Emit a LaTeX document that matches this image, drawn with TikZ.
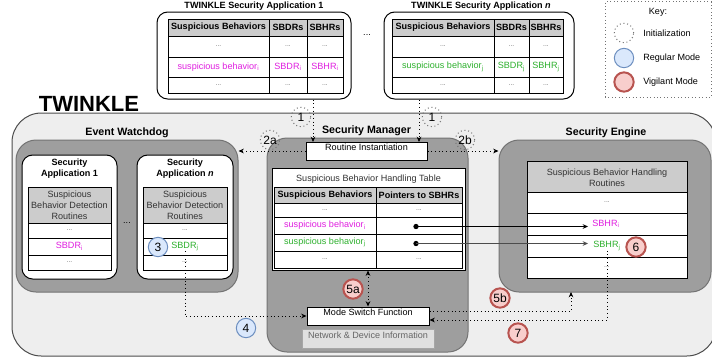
\documentclass[tikz,border=0pt]{standalone}
\usepackage{fontspec}
\setmainfont{Liberation Sans}
\usetikzlibrary{fit,arrows.meta}

\definecolor{twinklefill}{HTML}{EEEEEE}
\definecolor{darkfill}{HTML}{9E9E9E}
\definecolor{headfill}{HTML}{CCCCCC}
\definecolor{sbmag}{HTML}{E01EE0}
\definecolor{sbgreen}{HTML}{2DB02D}
\definecolor{regfill}{HTML}{DAE8FC}
\definecolor{regline}{HTML}{6C8EBF}
\definecolor{vigfill}{HTML}{F8CECC}
\definecolor{vigline}{HTML}{B85450}

\tikzset{
  every node/.style={font=\fontsize{6.8}{8.2}\selectfont, inner sep=0pt},
  outerbox/.style={draw=black!70, line width=0.75pt, fill=twinklefill, rounded corners=22pt, inner sep=0pt},
  darkbox/.style={draw=black!55, line width=0.75pt, fill=darkfill, rounded corners=15pt, inner sep=0pt},
  appbox/.style={draw=black, line width=0.75pt, fill=white, rounded corners=8pt, inner sep=0pt},
  plainbox/.style={draw=black, line width=0.75pt, fill=white, inner sep=0pt},
  netbox/.style={draw=black!35, line width=0.75pt, fill=black!12, text=black!60, inner sep=0pt},
  keybox/.style={draw=black!55, dotted, line width=0.6pt, inner sep=0pt},
  gridline/.style={draw=black, line width=0.75pt},
  bigtitle/.style={font=\fontsize{16.5}{18}\selectfont\bfseries},
  grouptitle/.style={font=\fontsize{8}{9.6}\selectfont\bfseries},
  boldtext/.style={font=\fontsize{6.8}{8.2}\selectfont\bfseries},
  celldots/.style={font=\fontsize{5}{6}\selectfont, text=black!60},
  marker/.style={circle, minimum size=14.5pt, line width=0.75pt, font=\fontsize{9}{10}\selectfont},
  initmark/.style={marker, draw=black!55, dotted},
  regmark/.style={marker, draw=regline, fill=regfill},
  vigmark/.style={marker, draw=vigline, fill=vigfill, line width=1.5pt},
  initarrow/.style={dotted, line width=0.75pt, -{Stealth[length=4pt,width=3.5pt]}},
  modearrow/.style={initarrow},
  ptrarrow/.style={line width=0.75pt, -{Stealth[length=4pt,width=3.5pt]}},
  ptrdot/.style={circle, fill=black, minimum size=4pt},
  magtext/.style={text=sbmag},
  greentext/.style={text=sbgreen},
}

\begin{document}
\begin{tikzpicture}[x=0.75pt,y=-0.75pt]
  \useasboundingbox (0,0) rectangle (712,362);

  % security applications on top
  \node[appbox, fit={(157,12) (351,99)}] (topapp1) {};
  \node[boldtext] (topapp1title) at (254,6) {TWINKLE Security Application 1};
  \fill[headfill] (168,19) rectangle (343,36);
  \draw[gridline] (168,19) rectangle (343,93) (168,36) -- (343,36) (168,57) -- (343,57) (168,77) -- (343,77)
    (269,19) -- (269,93) (307,19) -- (307,93);
  \node[boldtext] (t1h1) at (218.5,27.5) {Suspicious Behaviors};
  \node[boldtext] (t1h2) at (288,27.5) {SBDRs};
  \node[boldtext] (t1h3) at (325,27.5) {SBHRs};
  \node[celldots] (t1a1) at (218.5,46.5) {...};
  \node[celldots] (t1a2) at (288,46.5) {...};
  \node[celldots] (t1a3) at (325,46.5) {...};
  \node[magtext] (t1b1) at (218.5,67) {suspicious behavior\textsubscript{i}};
  \node[magtext] (t1b2) at (288,67) {SBDR\textsubscript{i}};
  \node[magtext] (t1b3) at (325,67) {SBHR\textsubscript{i}};
  \node[celldots] (t1c1) at (218.5,85) {...};
  \node[celldots] (t1c2) at (288,85) {...};
  \node[celldots] (t1c3) at (325,85) {...};

  \node (topdots) at (367,35) {...};

  \node[appbox, fit={(384,12) (574,99)}] (topappn) {};
  \node[boldtext] (topappntitle) at (481,6) {TWINKLE Security Application \textit{n}};
  \fill[headfill] (392,19) rectangle (563,36);
  \draw[gridline] (392,19) rectangle (563,93) (392,36) -- (563,36) (392,57) -- (563,57) (392,77) -- (563,77)
    (494,19) -- (494,93) (529,19) -- (529,93);
  \node[boldtext] (tnh1) at (443,27.5) {Suspicious Behaviors};
  \node[boldtext] (tnh2) at (511.5,27.5) {SBDRs};
  \node[boldtext] (tnh3) at (546,27.5) {SBHRs};
  \node[celldots] (tna1) at (443,46.5) {...};
  \node[celldots] (tna2) at (511.5,46.5) {...};
  \node[celldots] (tna3) at (546,46.5) {...};
  \node[greentext] (tnb1) at (443,67) {suspicious behavior\textsubscript{j}};
  \node[greentext] (tnb2) at (511.5,67) {SBDR\textsubscript{j}};
  \node[greentext] (tnb3) at (546,67) {SBHR\textsubscript{j}};
  \node[celldots] (tnc1) at (443,85) {...};
  \node[celldots] (tnc2) at (511.5,85) {...};
  \node[celldots] (tnc3) at (546,85) {...};

  % key
  \node[keybox, fit={(605,1.5) (711,97)}] (key) {};
  \node (keytitle) at (658,12) {Key:};
  \node[initmark] (keyinit) at (624,33) {};
  \node[anchor=west] (keyinitlabel) at (643,33) {Initialization};
  \node[regmark] (keyreg) at (624,58) {};
  \node[anchor=west] (keyreglabel) at (643,58) {Regular Mode};
  \node[vigmark] (keyvig) at (624,82) {};
  \node[anchor=west] (keyviglabel) at (643,82) {Vigilant Mode};

  % twinkle
  \node[outerbox, fit={(12,113) (716,356)}] (twinkle) {};
  \node[bigtitle] (twinkletitle) at (89,104) {TWINKLE};

  % event watchdog
  \node[grouptitle] (ewtitle) at (127,133) {Event Watchdog};
  \node[darkbox, fit={(16,140) (238,292)}] (watchdog) {};
  \node[appbox, fit={(22,155) (117,279)}] (ewapp1) {};
  \node[boldtext, align=center] (ewapp1title) at (69.5,168.5) {Security\\Application 1};
  \fill[headfill] (28,187) rectangle (111,223);
  \draw[gridline] (28,187) rectangle (111,270) (28,223) -- (111,223) (28,238) -- (111,238) (28,255) -- (111,255);
  \node[align=center, text=black!80] (ew1head) at (69.5,205) {Suspicious\\Behavior Detection\\Routines};
  \node[celldots] (ew1a) at (69.5,230.5) {...};
  \node[magtext] (ew1sbdri) at (69.5,246.5) {SBDR\textsubscript{i}};
  \node[celldots] (ew1c) at (69.5,262.5) {...};

  \node (ewdots) at (127,223) {...};

  \node[appbox, fit={(137,155) (233,279)}] (ewappn) {};
  \node[boldtext, align=center] (ewappntitle) at (185,168.5) {Security\\Application \textit{n}};
  \fill[headfill] (143,187) rectangle (227,223);
  \draw[gridline] (143,187) rectangle (227,270) (143,223) -- (227,223) (143,238) -- (227,238) (143,255) -- (227,255);
  \node[align=center, text=black!80] (ewnhead) at (185,205) {Suspicious\\Behavior Detection\\Routines};
  \node[celldots] (ewna) at (185,230.5) {...};
  \node[greentext] (ewnsbdrj) at (185,246.5) {SBDR\textsubscript{j}};
  \node[celldots] (ewnc) at (185,262.5) {...};

  % security manager
  \node[grouptitle] (smtitle) at (366.5,131) {Security Manager};
  \node[darkbox, fit={(267,138) (468,352)}] (manager) {};
  \node[plainbox, fit={(306,142) (427,160)}] (routine) {Routine Instantiation};
  \node[plainbox, fit={(272,168) (465,270)}] (handling) {};
  \node[text=black!80] (handlingtitle) at (368.5,179) {Suspicious Behavior Handling Table};
  \fill[headfill] (274,187) rectangle (462,203);
  \draw[gridline] (274,187) rectangle (462,268) (274,203) -- (462,203) (274,217) -- (462,217) (274,234) -- (462,234)
    (274,251) -- (462,251) (376,187) -- (376,268);
  \node[boldtext] (sbth1) at (325,195) {Suspicious Behaviors};
  \node[boldtext] (sbth2) at (419,195) {Pointers to SBHRs};
  \node[celldots] (sbta1) at (325,210) {...};
  \node[celldots] (sbta2) at (419,210) {...};
  \node[magtext] (sbtb1) at (325,225.5) {suspicious behavior\textsubscript{i}};
  \node[ptrdot] (ptri) at (416,226.5) {};
  \node[greentext] (sbtc1) at (325,242.5) {suspicious behavior\textsubscript{j}};
  \node[ptrdot] (ptrj) at (416,243.5) {};
  \node[celldots] (sbtd1) at (325,259.5) {...};
  \node[celldots] (sbtd2) at (419,259.5) {...};
  \node[plainbox, fit={(307,307) (429,325)}] (modeswitch) {Mode Switch Function};
  \node[netbox, fit={(302,329) (434,348)}] (netinfo) {Network \& Device Information};

  % security engine
  \node[grouptitle] (setitle) at (606,133) {Security Engine};
  \node[darkbox, fit={(499,140) (711,292)}] (engine) {};
  \fill[white] (527,161) rectangle (687,278);
  \fill[headfill] (527,161) rectangle (687,192);
  \draw[gridline] (527,161) rectangle (687,278) (527,192) -- (687,192) (527,213) -- (687,213) (527,235) -- (687,235)
    (527,257) -- (687,257);
  \node[align=center, text=black!80] (sehead) at (607,177.5) {Suspicious Behavior Handling\\Routines};
  \node[celldots] (sea) at (607,202.5) {...};
  \node[magtext] (sbhri) at (606,224) {SBHR\textsubscript{i}};
  \node[greentext] (sbhrj) at (607,246) {SBHR\textsubscript{j}};
  \node[celldots] (sed) at (607,267.5) {...};

  % connectors
  \coordinate (inst1) at (313,142);
  \coordinate (inst2) at (419,142);
  \coordinate (sbhritip) at (588,226.5);
  \coordinate (sbhrjtip) at (588,243.5);
  \coordinate (enginetip) at (571,292);

  \draw[initarrow] (inst1 |- topapp1.south) -- (inst1);
  \draw[initarrow] (inst2 |- topappn.south) -- (inst2);
  \draw[initarrow] (routine.west) -- (routine.west -| watchdog.east);
  \draw[initarrow] (routine.east) -- (routine.east -| engine.west);

  \draw[modearrow] (ewnsbdrj.south) |- (modeswitch.west);
  \draw[modearrow, {Stealth[length=4pt,width=3.5pt]}-{Stealth[length=4pt,width=3.5pt]}] (handling.south -| modeswitch.north) -- (modeswitch.north);
  \draw[modearrow] ([yshift=3.75pt]modeswitch.east) -| (enginetip);
  \draw[modearrow] (sbhrj.south) |- ([yshift=-3pt]modeswitch.east);

  \draw[ptrarrow] (ptri.center) -- (sbhritip);
  \draw[ptrarrow, black!70] (ptrj.center) -- (sbhrjtip);

  % step markers
  \node[initmark] (m1a) at (301,117) {1};
  \node[initmark] (m1b) at (432,117) {1};
  \node[initmark] (m2a) at (270,140) {2a};
  \node[initmark] (m2b) at (465,140) {2b};
  \node[regmark] (m3) at (158,247) {3};
  \node[regmark] (m4) at (246,328) {4};
  \node[vigmark] (m5a) at (353,289) {5a};
  \node[vigmark] (m5b) at (500,298) {5b};
  \node[vigmark] (m6) at (636,247) {6};
  \node[vigmark] (m7) at (518,333) {7};
\end{tikzpicture}
\end{document}
